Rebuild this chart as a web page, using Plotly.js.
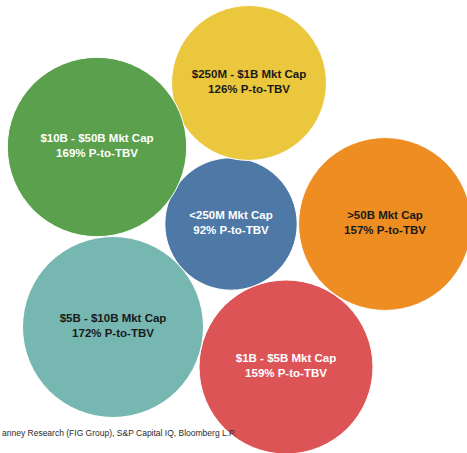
<!DOCTYPE html>
<html>
<head>
<meta charset="utf-8">
<script src="https://cdn.plot.ly/plotly-3.0.1.min.js"></script>
<style>html,body{margin:0;padding:0;background:#fff;}#chart{width:467px;height:453px;}</style>
</head>
<body>
<div id="chart"></div>
<script>
// Data
var capBuckets = ["<250M Mkt Cap", "$250M - $1B Mkt Cap", "$1B - $5B Mkt Cap", "$5B - $10B Mkt Cap", "$10B - $50B Mkt Cap", ">50B Mkt Cap"];
var pToTbv = [92, 126, 159, 172, 169, 157];
// packed-bubble layout positions (chart units)
var bubbleX = [231, 249, 286, 113, 97, 385];
var bubbleY = [224, 83, 367, 327, 147, 224];
var sourceText = "anney Research (FIG Group), S&P Capital IQ, Bloomberg L.P.";

// Styles
var bubbleColors = ["#4E79A7", "#EBC73E", "#DD5457", "#76B7B2", "#5AA04D", "#EE8D22"];
var labelColors = ["#ffffff", "#1a1a1a", "#ffffff", "#1a1a1a", "#ffffff", "#1a1a1a"];
var sizeScale = 13.8;

var sizes = pToTbv.map(function(v){ return sizeScale * Math.sqrt(v); });
var labels = capBuckets.map(function(c, i){ return "<b>" + c + "<br>" + pToTbv[i] + "% P-to-TBV</b>"; });

var trace = {
  type: "scatter",
  mode: "markers+text",
  x: bubbleX,
  y: bubbleY,
  text: labels,
  textposition: "middle center",
  textfont: {family: "Liberation Sans, Arial, sans-serif", size: 11.5, color: labelColors},
  marker: {size: sizes, sizemode: "diameter", color: bubbleColors, opacity: 1, line: {color: "#ffffff", width: 1}},
  hoverinfo: "none",
  cliponaxis: false
};

var layout = {
  width: 467, height: 453,
  margin: {l: 0, r: 0, t: 0, b: 0},
  paper_bgcolor: "#ffffff",
  plot_bgcolor: "#ffffff",
  showlegend: false,
  xaxis: {range: [0, 467], visible: false, fixedrange: true},
  yaxis: {range: [453, 0], visible: false, fixedrange: true},
  annotations: [{
    text: sourceText,
    xref: "paper", yref: "paper",
    x: 0, y: 0.044, xanchor: "left", yanchor: "middle",
    showarrow: false,
    font: {family: "Liberation Sans, Arial, sans-serif", size: 8.5, color: "#2a2a2a"}
  }]
};

Plotly.newPlot("chart", [trace], layout, {displayModeBar: false, staticPlot: true});
</script>
</body>
</html>
